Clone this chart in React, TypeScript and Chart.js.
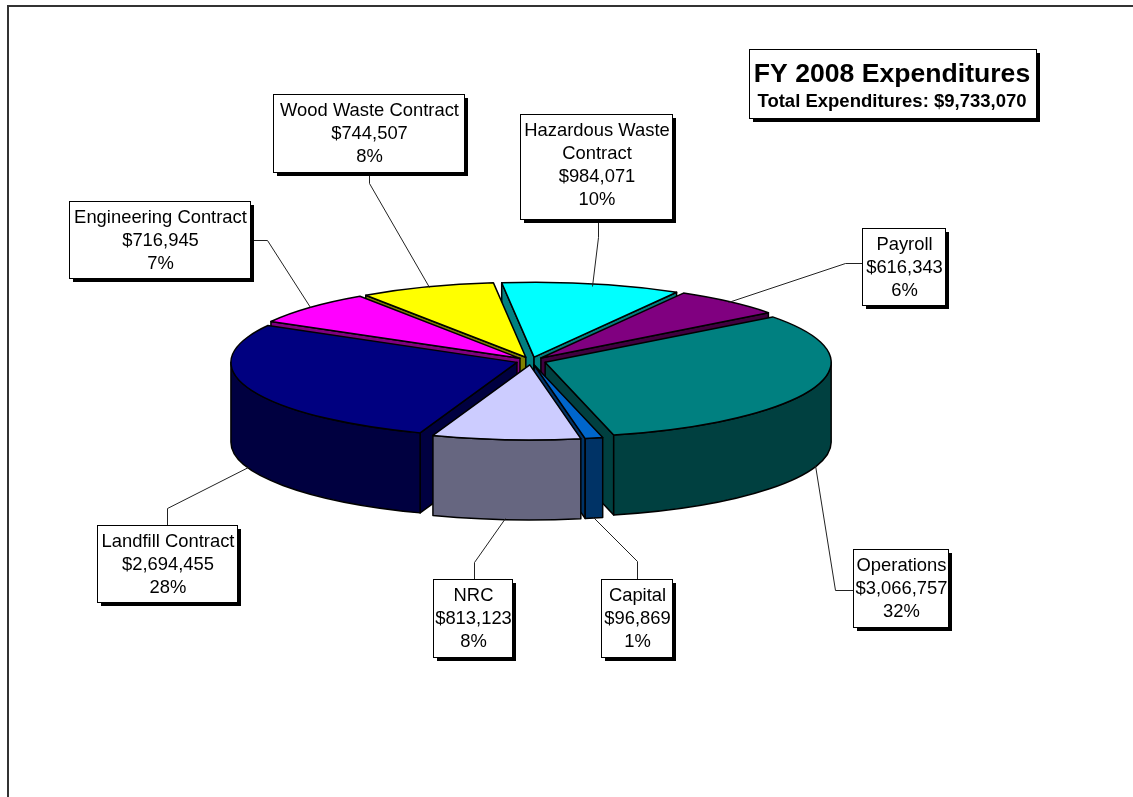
import React, { useEffect, useRef } from "react";
import { Chart, registerables } from "chart.js";

Chart.register(...registerables);

const categories = ["Operations", "Capital", "NRC", "Landfill Contract", "Engineering Contract", "Wood Waste Contract", "Hazardous Waste Contract", "Payroll"];
const expenditures = [3066757, 96869, 813123, 2694455, 716945, 744507, 984071, 616343];
const percentLabels = ["32%", "1%", "8%", "28%", "7%", "8%", "10%", "6%"];
const amountLabels = ["$3,066,757", "$96,869", "$813,123", "$2,694,455", "$716,945", "$744,507", "$984,071", "$616,343"];
const categoryLines = [["Operations"], ["Capital"], ["NRC"], ["Landfill Contract"], ["Engineering Contract"], ["Wood Waste Contract"], ["Hazardous Waste", "Contract"], ["Payroll"]];
const faceColors = ["#008080", "#0066CC", "#CCCCFF", "#000080", "#FF00FF", "#FFFF00", "#00FFFF", "#800080"];
const wallColors = ["#004040", "#003366", "#666680", "#000040", "#800080", "#808000", "#008080", "#400040"];
const chartTitle = "FY 2008 Expenditures";
const chartSubtitle = "Total Expenditures: $9,733,070";

// layout only
const W = 1133, H = 797;
const CX = 531, CY = 361, SQUASH = 0.262, DEPTH = 80, EXPLODE = 15, RADIUS = 286;
const FONT = '"Liberation Sans", Arial, sans-serif';
const boxes = [
  { x: 853, y: 549, w: 95, h: 78 },
  { x: 601, y: 579, w: 71, h: 78 },
  { x: 433, y: 579, w: 79, h: 78 },
  { x: 97, y: 525, w: 140, h: 77 },
  { x: 69, y: 201, w: 181, h: 77 },
  { x: 273, y: 94, w: 191, h: 78 },
  { x: 520, y: 114, w: 152, h: 105 },
  { x: 862, y: 228, w: 83, h: 77 },
];
const leaders = [
  [[853, 590], [835, 590], [815, 465]],
  [[637, 579], [637, 561], [593, 517]],
  [[474, 579], [474, 562], [505, 518]],
  [[167, 525], [167, 508], [248, 467]],
  [[250, 240], [267, 240], [310, 307]],
  [[369, 172], [369, 183], [429, 287]],
  [[598, 219], [598, 237], [592, 286]],
  [[862, 263], [845, 263], [728, 302]],
];

function origin(arc: any) {
  const mid = (arc.startAngle + arc.endAngle) / 2;
  return { x: CX + EXPLODE * Math.cos(mid), y: CY + SQUASH * EXPLODE * Math.sin(mid) };
}

function norm(a: number) {
  const t = Math.PI * 2;
  return ((a % t) + t) % t;
}

function drawWalls(ctx: CanvasRenderingContext2D, arc: any, wall: string) {
  const o = origin(arc);
  const r = arc.outerRadius, ry = r * SQUASH;
  const paint = () => {
    ctx.fillStyle = wall;
    ctx.fill();
    ctx.strokeStyle = "#000";
    ctx.lineWidth = 1.5;
    ctx.lineJoin = "round";
    ctx.stroke();
  };
  const radial = (a: number) => {
    const px = o.x + r * Math.cos(a), py = o.y + ry * Math.sin(a);
    ctx.beginPath();
    ctx.moveTo(o.x, o.y);
    ctx.lineTo(px, py);
    ctx.lineTo(px, py + DEPTH);
    ctx.lineTo(o.x, o.y + DEPTH);
    ctx.closePath();
    paint();
  };
  if (Math.cos(arc.startAngle) < 0) radial(arc.startAngle);
  if (Math.cos(arc.endAngle) > 0) radial(arc.endAngle);
  // visible part of the rim: screen-lower half of the ellipse
  const s = norm(arc.startAngle);
  const e = s + (arc.endAngle - arc.startAngle);
  for (const [lo, hi] of [[0, Math.PI], [Math.PI * 2, Math.PI * 3]]) {
    const a0 = Math.max(s, lo), a1 = Math.min(e, hi);
    if (a1 <= a0) continue;
    ctx.beginPath();
    ctx.ellipse(o.x, o.y, r, ry, 0, a0, a1);
    ctx.ellipse(o.x, o.y + DEPTH, r, ry, 0, a1, a0, true);
    ctx.closePath();
    paint();
  }
}

const pie3d = {
  id: "pie3d",
  beforeDraw(chart: any) {
    const ctx = chart.ctx;
    ctx.save();
    ctx.fillStyle = "#fff";
    ctx.fillRect(0, 0, W, H);
    ctx.strokeStyle = "#333";
    ctx.lineWidth = 2;
    ctx.beginPath();
    ctx.moveTo(8, H);
    ctx.lineTo(8, 6);
    ctx.lineTo(W, 6);
    ctx.stroke();
    ctx.restore();
  },
  beforeDatasetDraw(chart: any, args: any) {
    const ctx = chart.ctx as CanvasRenderingContext2D;
    const arcs: any[] = args.meta.data;
    const order = arcs.map((_, i) => i).sort((a, b) => {
      const ma = (arcs[a].startAngle + arcs[a].endAngle) / 2;
      const mb = (arcs[b].startAngle + arcs[b].endAngle) / 2;
      return Math.sin(ma) - Math.sin(mb);
    });
    ctx.save();
    order.forEach((i) => drawWalls(ctx, arcs[i], wallColors[i]));
    // top faces: the library's own arc elements, seen at a tilt
    arcs.forEach((arc) => {
      const o = origin(arc);
      ctx.save();
      ctx.translate(o.x, o.y);
      ctx.scale(1, SQUASH);
      ctx.translate(-arc.x, -arc.y);
      arc.draw(ctx);
      ctx.restore();
    });
    ctx.strokeStyle = "#000";
    ctx.lineWidth = 1.5;
    ctx.lineJoin = "round";
    arcs.forEach((arc) => {
      const o = origin(arc);
      ctx.beginPath();
      ctx.moveTo(o.x, o.y);
      ctx.ellipse(o.x, o.y, arc.outerRadius, arc.outerRadius * SQUASH, 0, arc.startAngle, arc.endAngle);
      ctx.closePath();
      ctx.stroke();
    });
    ctx.restore();
    return false;
  },
  afterDraw(chart: any) {
    const ctx = chart.ctx as CanvasRenderingContext2D;
    ctx.save();
    ctx.strokeStyle = "#222";
    ctx.lineWidth = 1;
    leaders.forEach((pts) => {
      ctx.beginPath();
      pts.forEach(([x, y], i) => (i ? ctx.lineTo(x + 0.5, y + 0.5) : ctx.moveTo(x + 0.5, y + 0.5)));
      ctx.stroke();
    });
    const box = (b: { x: number; y: number; w: number; h: number }) => {
      ctx.fillStyle = "#000";
      ctx.fillRect(b.x + 4, b.y + 4, b.w, b.h);
      ctx.fillStyle = "#fff";
      ctx.fillRect(b.x, b.y, b.w, b.h);
      ctx.strokeStyle = "#000";
      ctx.lineWidth = 1;
      ctx.strokeRect(b.x + 0.5, b.y + 0.5, b.w, b.h);
    };
    ctx.textAlign = "center";
    ctx.textBaseline = "alphabetic";
    boxes.forEach((b, i) => {
      box(b);
      ctx.fillStyle = "#000";
      ctx.font = `18.4px ${FONT}`;
      const lines = [...categoryLines[i], amountLabels[i], percentLabels[i]];
      lines.forEach((t, j) => ctx.fillText(t, b.x + b.w / 2 + 1, b.y + 22 + j * 23));
    });
    const t = { x: 749, y: 49, w: 287, h: 69 };
    box(t);
    ctx.fillStyle = "#000";
    ctx.font = `bold 26.6px ${FONT}`;
    ctx.fillText(chartTitle, t.x + t.w / 2 - 0.5, t.y + 33);
    ctx.font = `bold 18.5px ${FONT}`;
    ctx.fillText(chartSubtitle, t.x + t.w / 2 - 0.5, t.y + 58);
    ctx.restore();
  },
};

export default function App() {
  const ref = useRef<HTMLCanvasElement>(null);
  useEffect(() => {
    document.body.style.margin = "0";
    const chart = new Chart(ref.current!, {
      type: "pie",
      data: {
        labels: categories,
        datasets: [{ data: expenditures, backgroundColor: faceColors, borderWidth: 0 }],
      },
      options: {
        animation: false,
        responsive: false,
        rotation: 52.7,
        radius: RADIUS,
        layout: { padding: 0 },
        plugins: { legend: { display: false }, tooltip: { enabled: false }, title: { display: false } },
      },
      plugins: [pie3d],
    } as any);
    return () => chart.destroy();
  }, []);
  return <canvas ref={ref} width={W} height={H} style={{ display: "block" }} />;
}
